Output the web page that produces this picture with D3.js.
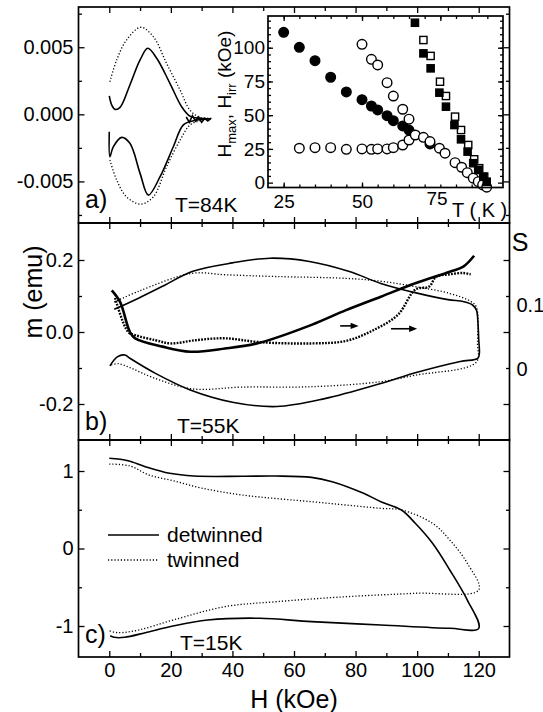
<!DOCTYPE html>
<html lang="en">
<head>
<meta charset="UTF-8">
<title>m(H) loops, detwinned vs twinned</title>
<style>
body { margin: 0; background: #fff; }
svg { display: block; font-family: "Liberation Sans", Arial, sans-serif; }
.frame { fill: none; stroke: #000; stroke-width: 1.7; }
.axis path { display: none; }
.axis line { stroke: #000; stroke-width: 1.3; }
.axis text { font-size: 20px; fill: #000; font-family: "Liberation Sans", Arial, sans-serif; }
.inset .axis text { font-size: 19px; }
.solid { fill: none; stroke: #000; stroke-width: 1.6; }
.dotted { fill: none; stroke: #000; stroke-width: 1.3; stroke-dasharray: 1.2 2; }
.thick { fill: none; stroke: #000; stroke-width: 2.6; }
.thickdot { fill: none; stroke: #000; stroke-width: 2.4; stroke-dasharray: 1.8 1.3; }
.lbl { font-size: 21px; fill: #000; }
.title { font-size: 25px; fill: #000; }
</style>
</head>
<body>
<svg width="543" height="712"></svg>
<script src="https://d3js.org/d3.v7.min.js"></script>
<script>
// ---------- data: [H (kOe), m (emu)] ----------
// a) T=84K
var aSolidUp   = [[0,0.00137],[0.8,0.00069],[1.9,0.00037],[3.5,0.00052],[6.7,0.00219],[10,0.00405],[12.5,0.00492],[15.4,0.00418],[19.7,0.00231],[23.5,0.00057],[26.2,-0.00013],[29.4,-0.0003],[32.9,-0.00033]];
var aSolidDown = [[0,-0.0013],[0.2,-0.00316],[1.3,-0.00242],[4,-0.00172],[6.7,-0.00216],[10,-0.0044],[12.7,-0.00602],[16.5,-0.00465],[20.8,-0.00242],[24,-0.0008],[27.3,-0.00048],[32.9,-0.00033]];
var aNoise     = [[25,-0.0002],[26,-0.0006],[27,-0.0001],[28,-0.0005],[29,-0.0002],[30,-0.0006],[31,-0.0003],[32,-0.0005],[33,-0.0003]];
var aDotUp     = [[0.2,0.00243],[2.4,0.00405],[5.6,0.00554],[10.2,0.00649],[14.3,0.00579],[18.6,0.0038],[23,0.00181],[26.2,0.00032],[29.4,-0.00022],[33.2,-0.0003]];
var aDotDown   = [[0.2,-0.00341],[2.4,-0.0049],[5.6,-0.00615],[10.2,-0.00669],[14.3,-0.00615],[18.6,-0.00391],[23,-0.00192],[26.2,-0.0008],[29.4,-0.00048],[33.2,-0.00033]];

// b) T=55K
var bSolid = [[1.6,0.063],[9.5,0.094],[18,0.13],[26.9,0.168],[40,0.192],[52.2,0.205],[65,0.196],[78,0.168],[88.2,0.135],[100,0.108],[110,0.09],[115.2,0.084],[118,0.075],[119.3,0.06],[119.7,0.033],[120,-0.02],[120.2,-0.06],[119.7,-0.073],
              [114,-0.082],[100,-0.112],[88.2,-0.143],[70,-0.185],[54.4,-0.207],[40,-0.195],[26.3,-0.161],[15,-0.115],[6.7,-0.073],[5.1,-0.064],[2.6,-0.069],[0.2,-0.094]];
var bDot   = [[1.6,0.083],[9.5,0.113],[26.9,0.163],[37.6,0.159],[54.4,0.154],[76.9,0.149],[88.2,0.141],[99.4,0.126],[110.6,0.107],[117.4,0.085],[119.2,0.07],[119.6,-0.03],[119.2,-0.084],
              [99.4,-0.12],[88.2,-0.138],[65.7,-0.152],[43.2,-0.153],[26.9,-0.158],[14,-0.126],[7,-0.1],[3,-0.088],[0.3,-0.092]];
// relaxation rate S (right axis)
var bSsolid = [[0.8,0.123],[3.5,0.105],[6.7,0.058],[8.4,0.048],[17.3,0.035],[26.3,0.027],[37.6,0.032],[48.8,0.041],[65.7,0.069],[76.9,0.092],[88.2,0.113],[99.4,0.134],[110.6,0.152],[115,0.16],[118.5,0.177]];
var bSdot   = [[1.9,0.111],[6.1,0.058],[8.4,0.053],[15,0.045],[20,0.04],[28,0.045],[37.6,0.048],[48.8,0.042],[65.7,0.04],[76.9,0.044],[85.9,0.061],[93.8,0.085],[99.4,0.124],[103.9,0.129],[106.2,0.144],[110.6,0.148],[115,0.15],[117.4,0.148]];
var bArrows = [[75,81,0.017],[91.5,100,0.009]];

// c) T=15K
var cSolid = [[0,1.164],[6.1,1.133],[11.7,1.056],[19.6,0.97],[27.5,0.935],[43.2,0.932],[54,0.935],[65.7,0.918],[72.4,0.862],[82.6,0.712],[88.2,0.604],[94.9,0.497],[99.4,0.325],[105,0.067],[110.6,-0.277],[116.3,-0.665],[120,-1.03],
              [110.6,-1.03],[88.2,-0.987],[65.7,-0.944],[48.8,-0.9],[32,-0.923],[20.7,-1.0],[11.7,-1.086],[5,-1.146],[1.6,-1.146],[0.3,-1.125]];
var cDot   = [[0,1.09],[6.7,1.065],[12.9,0.948],[20.7,0.875],[30,0.78],[43.2,0.69],[65.7,0.604],[76.9,0.561],[88.2,0.518],[94.9,0.497],[105,0.325],[110.6,0.11],[116.3,-0.191],[120,-0.535],
              [99.4,-0.578],[76.9,-0.622],[54.4,-0.686],[37.6,-0.75],[20.7,-0.923],[9.5,-1.052],[2.7,-1.086],[0,-1.06]];

// inset: [T (K), H (kOe)]
var inFilledCirc = [[25,111.4],[30,100.3],[35,90.4],[40,78.1],[45,67.2],[50,61.5],[53,56.8],[55,53.9],[58,49.6],[60,45.9],[63,42],[65,39],[71.7,28.7]];
var inOpenCircA  = [[50,102.5],[53,91.4],[55,87.2],[58,74.1],[60,64.2],[63,54.4],[65,47]];
var inOpenCircB  = [[30,25.5],[35,25.9],[40,25.9],[45,24.7],[50,25],[53,24.7],[55,25],[58,25],[60,25.9],[63,27.9],[65,31.6],[67,35.3],[69.6,33.6],[71.7,30.4],[74.7,25.5],[76.5,21.8],[79.7,14.8],[81.8,11.4],[83.6,7.4],[85.5,3.3],[87.1,0.7],[88.5,-1.7],[89.8,-3.4]];
var inFilledSq   = [[66.9,118.5],[69.6,95.8],[71.9,84.7],[74.7,66.7],[76.8,56.3],[79.5,42.7],[81.6,32.1],[83.7,23],[85.5,14.4],[87.1,9.4],[88.7,4.4],[89.8,0.7]];
var inOpenSq     = [[69.6,105.7],[71.9,93.9],[74.9,74.8],[76.8,64.2],[79.7,48.9],[81.6,39],[83.9,27.9],[85.8,17.3],[87.4,10.7],[89,4.4]];

var hMajor = [0,20,40,60,80,100,120];
var hMinor = [10,30,50,70,90,110];

// ---------- layout ----------
var svg = d3.select('svg');
var L = 78.5, R = 509.5;
var x  = d3.scaleLinear().domain([-10,130]).range([L,R]);
var ya = d3.scaleLinear().domain([-0.0081,0.008]).range([223,7]);
var yb = d3.scaleLinear().domain([-0.3,0.3]).range([440,224]);
var ys = d3.scaleLinear().domain([-0.1109,0.2266]).range([440,224]);
var yc = d3.scaleLinear().domain([-1.4,1.4]).range([657,440]);

var none = function() { return ''; };

function mkAxis(parent, orient, scale, pos, values, size, fmt, pad) {
    var horiz = (orient === d3.axisTop || orient === d3.axisBottom);
    parent.append('g')
        .attr('class', 'axis')
        .attr('transform', horiz ? 'translate(0,' + pos + ')' : 'translate(' + pos + ',0)')
        .call(orient(scale).tickValues(values).tickSize(-size).tickPadding(pad || 5).tickFormat(fmt || none));
}

function line(xs, yScale) {
    return d3.line()
        .x(function(d) { return xs(d[0]); })
        .y(function(d) { return yScale(d[1]); })
        .curve(d3.curveCatmullRom.alpha(0.5));
}

function panel(top, bottom, yScale, major, minor, fmt, xLabels) {
    mkAxis(svg, d3.axisLeft, yScale, L, major, 6, fmt, 5);
    mkAxis(svg, d3.axisLeft, yScale, L, minor, 3.5);
    mkAxis(svg, d3.axisRight, yScale, R, major, 6);
    mkAxis(svg, d3.axisRight, yScale, R, minor, 3.5);
    mkAxis(svg, d3.axisTop, x, top, hMajor, 6);
    mkAxis(svg, d3.axisTop, x, top, hMinor, 4);
    mkAxis(svg, d3.axisBottom, x, bottom, hMajor, 6, xLabels ? String : null, 6);
    mkAxis(svg, d3.axisBottom, x, bottom, hMinor, 4);
}

/* ---------------- panel a ---------------- */
var la = line(x, ya);
svg.append('path').attr('class', 'solid').attr('d', la(aSolidUp));
svg.append('path').attr('class', 'solid').attr('d', la(aSolidDown));
svg.append('path').attr('class', 'solid').attr('stroke-width', 2)
    .attr('d', d3.line().x(function(d){ return x(d[0]); }).y(function(d){ return ya(d[1]); })(aNoise));
svg.append('path').attr('class', 'dotted').attr('d', la(aDotUp));
svg.append('path').attr('class', 'dotted').attr('d', la(aDotDown));
panel(7, 223, ya, [-0.005,0,0.005], [-0.0075,-0.0025,0.0025,0.0075], function(d){ return d.toFixed(3); }, false);

/* ---------------- inset ---------------- */
var tx = d3.scaleLinear().domain([20,95]).range([268,503]);
var th = d3.scaleLinear().domain([-3.6,123.5]).range([187.5,16]);
var inset = svg.append('g').attr('class', 'inset');
inset.append('rect').attr('x', 268).attr('y', 16).attr('width', 235).attr('height', 171.5)
    .attr('fill', '#fff');

var tMinor = d3.range(25, 95, 5), hMin = d3.range(5, 125, 5);
mkAxis(inset, d3.axisBottom, tx, 187.5, [25,50], 5, String, 7);
mkAxis(inset, d3.axisBottom, tx, 187.5, tMinor, 3);
mkAxis(inset, d3.axisTop, tx, 16, tMinor, 3);
mkAxis(inset, d3.axisTop, tx, 16, [25,50,75], 5);
mkAxis(inset, d3.axisLeft, th, 268, [0,25,50,75,100], 5, String, 3);
mkAxis(inset, d3.axisLeft, th, 268, hMin, 3);
mkAxis(inset, d3.axisRight, th, 503, [0,25,50,75,100], 5);
mkAxis(inset, d3.axisRight, th, 503, hMin, 3);

function circles(data, filled) {
    inset.append('g').selectAll('circle').data(data).enter().append('circle')
        .attr('cx', function(d) { return tx(d[0]); })
        .attr('cy', function(d) { return th(d[1]); })
        .attr('r', 4.8)
        .attr('fill', filled ? '#000' : '#fff')
        .attr('stroke', '#000').attr('stroke-width', 1.4);
}
function squares(data, filled) {
    inset.append('g').selectAll('rect').data(data).enter().append('rect')
        .attr('x', function(d) { return tx(d[0]) - 3.6; })
        .attr('y', function(d) { return th(d[1]) - 3.6; })
        .attr('width', 7.2).attr('height', 7.2)
        .attr('fill', filled ? '#000' : '#fff')
        .attr('stroke', '#000').attr('stroke-width', 1.4);
}
circles(inFilledCirc, true);
circles(inOpenCircA, false);
circles(inOpenCircB, false);
squares(inOpenSq, false);
squares(inFilledSq, true);
inset.append('rect').attr('class', 'frame').attr('stroke-width', 1.4)
    .attr('x', 268).attr('y', 16).attr('width', 235).attr('height', 171.5);

inset.append('text').attr('x', 437).attr('y', 205).attr('text-anchor', 'middle')
    .style('font-size', '19px').text('75');
inset.append('text').attr('x', 452).attr('y', 217).style('font-size', '20px').text('T ( K )');

var hl = inset.append('text').attr('transform', 'translate(231,94) rotate(-90)')
    .attr('text-anchor', 'middle').style('font-size', '19px');
hl.append('tspan').text('H');
hl.append('tspan').attr('dy', 5).style('font-size', '13px').text('max');
hl.append('tspan').attr('dy', -5).text(', H');
hl.append('tspan').attr('dy', 5).style('font-size', '13px').text('irr');
hl.append('tspan').attr('dy', -5).text(' (kOe)');

/* ---------------- panel b ---------------- */
var lb = line(x, yb), ls = line(x, ys);
svg.append('path').attr('class', 'solid').attr('d', lb(bSolid));
svg.append('path').attr('class', 'dotted').attr('d', lb(bDot));
svg.append('path').attr('class', 'thick').attr('d', ls(bSsolid));
svg.append('path').attr('class', 'thickdot').attr('d', ls(bSdot));

bArrows.forEach(function(a) {
    var x0 = x(a[0]), x1 = x(a[1]), yy = yb(a[2]);
    svg.append('line').attr('x1', x0).attr('x2', x1 - 5).attr('y1', yy).attr('y2', yy)
        .attr('stroke', '#000').attr('stroke-width', 1.6);
    svg.append('path').attr('d', 'M' + x1 + ',' + yy + 'l-8,-3.2l0,6.4z').attr('fill', '#000');
});

panel(223, 440, yb, [-0.2,0,0.2], [-0.1,0.1], function(d){ return d.toFixed(1); }, false);
mkAxis(svg, d3.axisRight, ys, R, [0,0.1], 0, function(d){ return d === 0 ? '0' : '0.1'; }, 7);
svg.append('text').attr('class', 'title').attr('x', 520).attr('y', 251).attr('text-anchor', 'middle').text('S');

/* ---------------- panel c ---------------- */
var lc = line(x, yc);
svg.append('path').attr('class', 'solid').attr('d', lc(cSolid));
svg.append('path').attr('class', 'dotted').attr('d', lc(cDot));
panel(440, 657, yc, [-1,0,1], [-0.5,0.5], String, true);

// legend
svg.append('line').attr('class', 'solid').attr('x1', 108).attr('x2', 159).attr('y1', 535).attr('y2', 535);
svg.append('line').attr('class', 'dotted').attr('x1', 108).attr('x2', 159).attr('y1', 560).attr('y2', 560);
svg.append('text').attr('class', 'lbl').attr('x', 167).attr('y', 542).text('detwinned');
svg.append('text').attr('class', 'lbl').attr('x', 167).attr('y', 567).text('twinned');

/* ---------------- frames & labels ---------------- */
[[7,223],[223,440],[440,657]].forEach(function(p) {
    svg.append('rect').attr('class', 'frame')
        .attr('x', L).attr('y', p[0]).attr('width', R - L).attr('height', p[1] - p[0]);
});

svg.append('text').attr('class', 'title').attr('x', 85).attr('y', 208).text('a)');
svg.append('text').attr('class', 'title').attr('x', 85).attr('y', 430).text('b)');
svg.append('text').attr('class', 'title').attr('x', 85).attr('y', 643).text('c)');
svg.append('text').attr('class', 'lbl').attr('x', 175).attr('y', 212).text('T=84K');
svg.append('text').attr('class', 'lbl').attr('x', 177).attr('y', 433).text('T=55K');
svg.append('text').attr('class', 'lbl').attr('x', 180).attr('y', 650).text('T=15K');

svg.append('text').attr('class', 'title').attr('transform', 'translate(42,292) rotate(-90)')
    .attr('text-anchor', 'middle').text('m (emu)');
svg.append('text').attr('class', 'title').attr('x', 294).attr('y', 708)
    .attr('text-anchor', 'middle').text('H (kOe)');
</script>
</body>
</html>
